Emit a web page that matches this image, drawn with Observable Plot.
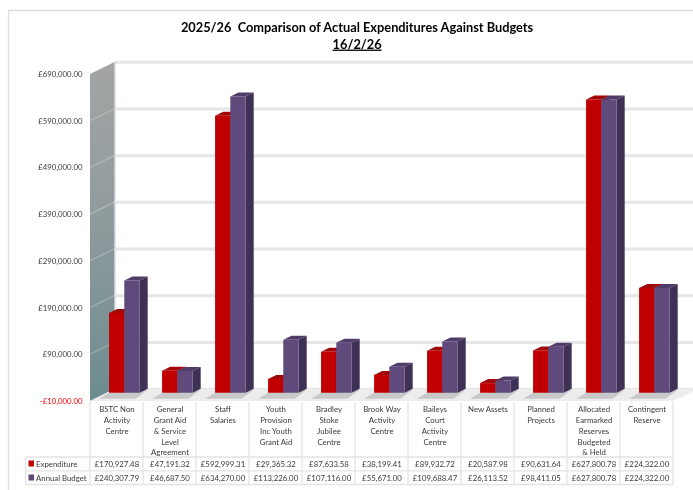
<!DOCTYPE html>
<html>
<head>
<meta charset="utf-8">
<script src="https://cdn.jsdelivr.net/npm/d3@7"></script>
<script src="https://cdn.jsdelivr.net/npm/@observablehq/plot@0.6"></script>
<style>
html,body{margin:0;padding:0;background:#fff}
svg{display:block;filter:blur(.45px)}
.u text{text-decoration:underline}
</style>
</head>
<body>
<script>
const categories = ["BSTC Non\nActivity\nCentre","General\nGrant Aid\n& Service\nLevel\nAgreement","Staff\nSalaries","Youth\nProvision\nInc Youth\nGrant Aid","Bradley\nStoke\nJubilee\nCentre","Brook Way\nActivity\nCentre","Baileys\nCourt\nActivity\nCentre","New Assets","Planned\nProjects","Allocated\nEarmarked\nReserves\nBudgeted\n& Held","Contingent\nReserve"];
const expenditure = [170927.48,47191.32,592999.31,29365.32,87633.58,38199.41,89932.72,20587.98,90631.64,627800.78,224322.00];
const annualBudget = [240307.79,46687.50,634270.00,113226.00,107116.00,55671.00,109688.47,26113.52,98411.05,627800.78,224322.00];
const yTicks = [-10000,90000,190000,290000,390000,490000,590000,690000];
const seriesNames = ["Expenditure","Annual Budget"];
const titleLines = ["2025/26  Comparison of Actual Expenditures Against Budgets","16/2/26"];

const gbp = v => (v<0?"-":"")+"£"+Math.abs(v).toLocaleString("en-GB",{minimumFractionDigits:2,maximumFractionDigits:2});
const series = [
  {name:seriesNames[0],values:expenditure,front:"#c00000",top:"#a20808",side:"#8c0000",k:0},
  {name:seriesNames[1],values:annualBudget,front:"#604a7b",top:"#4f3c68",side:"#3f3055",k:1}
];
const rows = series.flatMap(s=>s.values.map((v,i)=>({i,v,s})));
const barW = 0.287, barX0 = 0.36;
const font = "Lato, Carlito, sans-serif", ink = "#3a3a3a", small = 7.8;
const wallDX = 25, wallDY = -12.3, barDX = 8.2, barDY = -4, barPlaneDY = -3.6;

function poly(g, pts, fill){
  return g.append("polygon").attr("points",pts.map(q=>q.join(",")).join(" ")).attr("fill",fill);
}
function backdrop(index,{x,y}){
  const g = d3.create("svg:g");
  const grad = g.append("defs").append("linearGradient").attr("id","wall").attr("x1",0).attr("x2",0).attr("y1",0).attr("y2",1);
  grad.append("stop").attr("offset","0").attr("stop-color","#a3a5a5");
  grad.append("stop").attr("offset","0.42").attr("stop-color","#929c9e");
  grad.append("stop").attr("offset","1").attr("stop-color","#6d8c90");
  const x0=x(0), yT=y(yTicks[yTicks.length-1]), yB=y(yTicks[0]);
  poly(g,[[x0,yT],[x0+wallDX,yT+wallDY],[x0+wallDX,yB+wallDY],[x0,yB]],"url(#wall)");
  g.append("line").attr("x1",x0+wallDX).attr("x2",x0+wallDX).attr("y1",yT+wallDY).attr("y2",yB+wallDY).attr("stroke","#dcdcdc").attr("stroke-width",1.5);
  for(const t of yTicks.slice(1,-1))
    g.append("line").attr("x1",x0).attr("x2",x0+wallDX).attr("y1",y(t)).attr("y2",y(t)+wallDY).attr("stroke","#ffffff").attr("stroke-opacity",.28).attr("stroke-width",1.2);
  return g.node();
}
function floor(index,{x,y}){
  const g = d3.create("svg:g");
  const x0=x(0), xE=x(11), yB=y(yTicks[0]);
  poly(g,[[x0,yB],[x0+wallDX,yB+wallDY],[xE+wallDX,yB+wallDY],[xE,yB]],"#ececec");
  categories.forEach((c,i)=>{
    const l=x(i+barX0), r=x(i+barX0+2*barW), b=y(0)+barPlaneDY;
    poly(g,[[l,b],[l-10,b+6],[r-4,b+6],[r+barDX,b-3]],"#c8c8c8");
  });
  return g.node();
}
function barSides(s){
  return (index,{x,y})=>{
    const g = d3.create("svg:g");
    s.values.forEach((v,i)=>{
      const l=x(i+barX0+s.k*barW), r=x(i+barX0+(s.k+1)*barW), t=y(v)+barPlaneDY, b=y(0)+barPlaneDY;
      poly(g,[[l,t],[l+barDX,t+barDY],[r+barDX,t+barDY],[r,t]],s.top);
      poly(g,[[r,t],[r+barDX,t+barDY],[r+barDX,b+barDY],[r,b]],s.side);
    });
    return g.node();
  };
}
function table(index,{x}){
  const g = d3.create("svg:g").attr("stroke","#e3e3e3").attr("stroke-width",1.3);
  const ln=(a,b,c,d)=>g.append("line").attr("x1",a).attr("y1",b).attr("x2",c).attr("y2",d);
  d3.range(0,12).forEach(i=>ln(x(i),402,x(i),484.5));
  [457,470.8,484.5].forEach(py=>ln(25.5,py,x(11),py));
  ln(25.5,457,25.5,484.5);
  return g.node();
}
function frame(){
  const g = d3.create("svg:g").attr("stroke","#dedede").attr("stroke-width",1.3);
  g.append("line").attr("x1",8.5).attr("y1",10.5).attr("x2",693).attr("y2",10.5);
  g.append("line").attr("x1",8.5).attr("y1",10.5).attr("x2",8.5).attr("y2",490);
  return g.node();
}
function legendKeys(){
  const g = d3.create("svg:g");
  series.forEach((s,k)=>{
    g.append("rect").attr("x",28.5).attr("y",460.5+k*14).attr("width",5.5).attr("height",6).attr("fill",s.front);
  });
  return g.node();
}
const colText = (vals,dy)=>Plot.text(vals,{x:(d,i)=>i+.5,text:d=>gbp(d),frameAnchor:"top",lineAnchor:"middle",dy,fontSize:small,fill:ink,fontFamily:font});
const legendText = (name,dy)=>Plot.text([name],{x:()=>-1.028,text:d=>d,textAnchor:"start",frameAnchor:"top",lineAnchor:"middle",dy,fontSize:small,fill:ink,fontFamily:font});

const chart = Plot.plot({
  width:693,height:490,
  marginTop:0,marginBottom:0,marginLeft:82,marginRight:0,
  x:{type:"linear",domain:[0,11],range:[90,673],axis:null},
  y:{type:"linear",domain:[-10000,690000],range:[401,74],axis:null},
  marks:[
    frame,
    Plot.ruleY(yTicks,{x1:25/53,x2:11.4,dy:wallDY,stroke:"#e6e6e6",strokeWidth:3}),
    backdrop,
    floor,
    barSides(series[0]),
    Plot.rect(rows.filter(d=>d.s.k===0),{x1:d=>d.i+barX0,x2:d=>d.i+barX0+barW,y1:0,y2:d=>d.v,fill:"#c00000",dy:barPlaneDY,inset:0}),
    barSides(series[1]),
    Plot.rect(rows.filter(d=>d.s.k===1),{x1:d=>d.i+barX0+barW,x2:d=>d.i+barX0+2*barW,y1:0,y2:d=>d.v,fill:"#604a7b",dy:barPlaneDY,inset:0}),
    Plot.axisY({anchor:"left",ticks:yTicks.filter(t=>t>=0),tickSize:0,tickPadding:0,tickFormat:gbp,fontSize:small,fill:ink,fontFamily:font,label:null}),
    Plot.axisY({anchor:"left",ticks:yTicks.filter(t=>t<0),tickSize:0,tickPadding:0,tickFormat:gbp,fontSize:small,fill:"#ff0000",fontFamily:font,label:null}),
    table,
    legendKeys,
    Plot.text(categories,{x:(d,i)=>i+.5,text:d=>d,frameAnchor:"top",lineAnchor:"top",dy:404,lineHeight:1.385,fontSize:small,fill:ink,fontFamily:font}),
    colText(expenditure,463.5),
    colText(annualBudget,477.5),
    legendText(seriesNames[0],463.5),
    legendText(seriesNames[1],477.5),
    Plot.text([titleLines[0]],{x:()=>5.03,frameAnchor:"top",lineAnchor:"middle",dy:27,text:d=>d,fontSize:12.8,fontWeight:"bold",fill:"#000",fontFamily:font}),
    Plot.text([titleLines[1]],{x:()=>5.03,frameAnchor:"top",lineAnchor:"middle",dy:44,text:d=>d,fontSize:12.8,fontWeight:"bold",fill:"#000",fontFamily:font,className:"u"})
  ]
});
document.body.appendChild(chart);
</script>
</body>
</html>
